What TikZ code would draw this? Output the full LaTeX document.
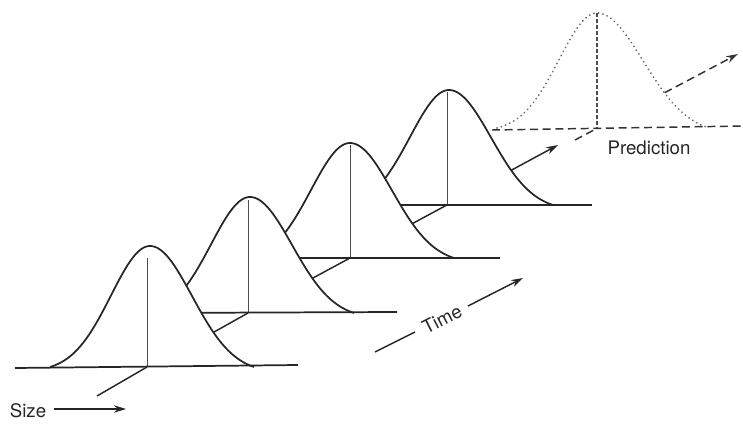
\documentclass[tikz,border=0pt]{standalone}
\usepackage{fontspec}
\setmainfont{TeX Gyre Heros}
\usetikzlibrary{arrows.meta}
% bell-shaped outline: #1 path options, #2 peak x, #3 base y, #4 height, #5 path ending
\newcommand{\gbell}[5]{%
  \path[#1] plot[domain=-100:0,samples=50,smooth] ({#2+\x},{#3-#4*(exp(-(\x)*(\x)/3042)-0.0374)/0.9626})
   -- plot[domain=0:104,samples=50,smooth] ({#2+\x},{#3-#4*(exp(-(\x)*(\x)/3528)-0.0466)/0.9534}) #5;}
\newcommand{\pbell}[2]{%
  \path[#1] plot[domain=-100:0,samples=50,smooth] ({597+\x},{128-115*(exp(-(\x)*(\x)/2888)-0.0314)/0.9686})
   -- plot[domain=0:112,samples=50,smooth] ({597+\x},{128-115*(exp(-(\x)*(\x)/4232)-0.0515)/0.9485}) #2;}
\begin{document}
\begin{tikzpicture}[x=0.75pt,y=-0.75pt,
  curve/.style={draw, line width=1.3pt, black!85, line join=round},
  axis/.style={draw, line width=1.1pt, black!85},
  mid/.style={draw, line width=0.7pt, black!70},
  pred/.style={draw, black!60, line width=1.5pt, dash pattern=on 0.01pt off 3.4pt, line cap=round},
  dash8/.style={draw, line width=1.1pt, black!80, dash pattern=on 6pt off 3.5pt},
  vdash/.style={draw, line width=0.8pt, black!70, dash pattern=on 3pt off 1.5pt},
  tip/.style={-{Stealth[length=9pt,width=5.5pt]}},
  lbl/.style={font=\fontsize{14}{16}\selectfont, inner sep=0pt, text=black!85}]
\useasboundingbox (0,0) rectangle (743,425);

% ---------- prediction ----------
\coordinate (pbl) at (492,130);
\coordinate (pbr) at (743,126);
\coordinate (ppk) at (597,13);
\coordinate (pb) at (597,128);
\coordinate (pst) at (575,140);
\coordinate (pa2) at (738,54);
\draw[dash8,tip] (pst) -- (pa2);
\pbell{fill=white}{-- cycle}
\pbell{pred}{}
\draw[vdash] (ppk) -- (pb);
\draw[dash8] (pbl) -- (pbr);

% ---------- curve 4 ----------
\coordinate (b4) at (447,205);
\coordinate (s4) at (395,233);
\coordinate (a4) at (558,145);
\coordinate (l4) at (340,205);
\coordinate (r4) at (592,205);
\coordinate (v4) at (447,92);
\draw[axis,tip] (s4) -- (a4);
\gbell{fill=white}{449}{205}{115}{-- cycle}
\draw[mid] (v4) -- (b4);
\gbell{curve}{449}{205}{115}{}
\draw[curve] (l4) -- (r4);

% ---------- curve 3 ----------
\coordinate (b3) at (350,258);
\coordinate (s3) at (300,285);
\coordinate (l3) at (240,258);
\coordinate (r3) at (500,258);
\coordinate (v3) at (350,145);
\gbell{fill=white}{350}{258}{115}{-- cycle}
\draw[axis] (b3) -- (s3);
\draw[mid] (v3) -- (b3);
\gbell{curve}{350}{258}{115}{}
\draw[curve] (l3) -- (r3);

% ---------- curve 2 ----------
\coordinate (b2) at (248,313);
\coordinate (s2) at (198,341);
\coordinate (l2) at (140,313);
\coordinate (r2) at (397,312);
\coordinate (v2) at (248,200);
\gbell{fill=white}{250}{313}{116}{-- cycle}
\draw[axis] (b2) -- (s2);
\draw[mid] (v2) -- (b2);
\gbell{curve}{250}{313}{116}{}
\draw[curve] (l2) -- (r2);

% ---------- curve 1 ----------
\coordinate (b1) at (147,367);
\coordinate (s1) at (97,396);
\coordinate (l1) at (15,368);
\coordinate (r1) at (298,365);
\coordinate (v1) at (147,258);
\gbell{fill=white}{150}{367}{121}{-- cycle}
\draw[axis] (b1) -- (s1);
\draw[mid] (v1) -- (b1);
\gbell{curve}{150}{367}{121}{}
\draw[curve] (l1) -- (r1);

% ---------- labels ----------
\node[lbl] (size) at (28,411) {Size};
\coordinate (sz1) at (54,409);
\coordinate (sz2) at (126,409);
\draw[axis,tip] (sz1) -- (sz2);

\node[lbl, rotate=27] (time) at (442,319) {Time};
\coordinate (t1) at (375,352);
\coordinate (t2) at (415,332);
\coordinate (t3) at (468,306);
\coordinate (t4) at (523,278);
\draw[axis] (t1) -- (t2);
\draw[axis,tip] (t3) -- (t4);

\node[lbl] (pred) at (649,148) {Prediction};
\end{tikzpicture}
\end{document}
